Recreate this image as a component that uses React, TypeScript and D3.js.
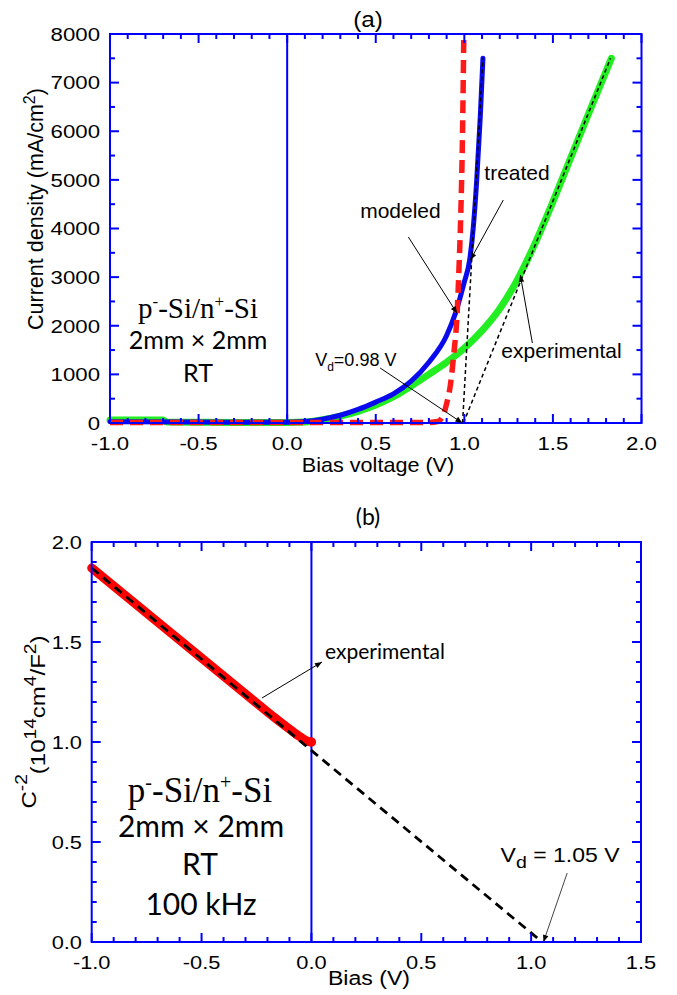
import React from 'react';
import * as d3 from 'd3';

// ---- panel (a): J-V curves ----
const greenIV = [
  [-1.0, 60], [-0.7, 60], [-0.68, 20], [-0.3, 12], [0.0, 10], [0.1, 20], [0.2, 70], [0.3, 140],
  [0.4, 240], [0.5, 370], [0.6, 540], [0.7, 760], [0.8, 1000], [0.9, 1250], [1.0, 1540],
  [1.1, 1900], [1.2, 2350], [1.3, 2950], [1.4, 3700], [1.5, 4550], [1.6, 5450], [1.7, 6350], [1.83, 7500],
];
const blueIV = [
  [-1.0, 25], [-0.5, 20], [0.0, 15], [0.1, 30], [0.2, 80], [0.3, 160], [0.4, 280], [0.5, 430],
  [0.6, 600], [0.7, 860], [0.8, 1250], [0.9, 1800], [0.95, 2260], [1.0, 2900], [1.03, 3350],
  [1.05, 4000], [1.07, 5000], [1.09, 6300], [1.105, 7500],
];
const redModel = [
  [-1.0, 10], [0.8, 10], [0.85, 30], [0.88, 150], [0.9, 400], [0.92, 750], [0.94, 1400],
  [0.96, 2300], [0.97, 3200], [0.98, 4300], [0.99, 6000], [0.997, 8000],
];
const treatedFit = [[0.99, 0], [1.105, 7500]];
const expFit = [[0.995, 0], [1.825, 7500]];

const xTicksA = [-1.0, -0.5, 0.0, 0.5, 1.0, 1.5, 2.0];
const xLabelsA = ['-1.0', '-0.5', '0.0', '0.5', '1.0', '1.5', '2.0'];
const yTicksA = [0, 1000, 2000, 3000, 4000, 5000, 6000, 7000, 8000];
const yLabelsA = ['0', '1000', '2000', '3000', '4000', '5000', '6000', '7000', '8000'];

// ---- panel (b): C^-2 - V ----
const redCV = [
  [-1.0, 1.87], [-0.9, 1.78], [-0.8, 1.69], [-0.7, 1.6], [-0.6, 1.51], [-0.5, 1.42], [-0.4, 1.33],
  [-0.3, 1.24], [-0.2, 1.15], [-0.1, 1.065], [-0.05, 1.025], [-0.02, 1.005], [0.0, 1.0],
];
const cvFit = [[-1.0, 1.87], [1.05, 0]];

const xTicksB = [-1.0, -0.5, 0.0, 0.5, 1.0, 1.5];
const xLabelsB = ['-1.0', '-0.5', '0.0', '0.5', '1.0', '1.5'];
const yTicksB = [0, 0.5, 1.0, 1.5, 2.0];
const yLabelsB = ['0.0', '0.5', '1.0', '1.5', '2.0'];

const ARIAL = "'Liberation Sans', Arial, sans-serif";
const TIMES = "'Liberation Serif', 'Times New Roman', serif";
const CALIBRI = "Lato, 'Open Sans', sans-serif";
const AXIS = '#0000ff';

const xA = d3.scaleLinear().domain([-1, 2]).range([110, 641.5]);
const yA = d3.scaleLinear().domain([0, 8000]).range([423, 34]);
const xB = d3.scaleLinear().domain([-1, 1.5]).range([91.7, 641]);
const yB = d3.scaleLinear().domain([0, 2]).range([942, 542]);

function Txt({ x, y, size, family = ARIAL, anchor = 'start', sx = 1, rot = 0, children }: any) {
  return (
    <text
      transform={`translate(${x},${y})${rot ? ` rotate(${rot})` : ''} scale(${sx},1)`}
      fontSize={size}
      fontFamily={family}
      textAnchor={anchor}
      fill="#000"
    >
      {children}
    </text>
  );
}

function Frame({ xs, ys, xStep, yStep, xMajor, yMajor }: any) {
  const [x0, x1] = xs.range();
  const [yb, yt] = ys.range();
  const [dx0, dx1] = xs.domain();
  const [dy0, dy1] = ys.domain();
  const nx = Math.round((dx1 - dx0) / xStep);
  const ny = Math.round((dy1 - dy0) / yStep);
  const xv = d3.range(nx + 1).map((i) => dx0 + i * xStep);
  const yv = d3.range(ny + 1).map((i) => dy0 + i * yStep);
  const isMaj = (v: number, m: number) => Math.abs(v / m - Math.round(v / m)) < 1e-6;
  return (
    <g stroke={AXIS} strokeWidth={2} fill="none">
      <rect x={x0} y={yt} width={x1 - x0} height={yb - yt} />
      {xv.map((v, i) => {
        const L = isMaj(v, xMajor) ? 9 : 5;
        const px = xs(v);
        return (
          <g key={'x' + i}>
            <line x1={px} x2={px} y1={yb} y2={yb - L} />
            <line x1={px} x2={px} y1={yt} y2={yt + L} />
          </g>
        );
      })}
      {yv.map((v, i) => {
        const L = isMaj(v, yMajor) ? 9 : 5;
        const py = ys(v);
        return (
          <g key={'y' + i}>
            <line x1={x0} x2={x0 + L} y1={py} y2={py} />
            <line x1={x1} x2={x1 - L} y1={py} y2={py} />
          </g>
        );
      })}
    </g>
  );
}

export default function App() {
  const lineA = d3.line<number[]>().x((d) => xA(d[0])).y((d) => yA(d[1])).curve(d3.curveMonotoneX);
  const straightA = d3.line<number[]>().x((d) => xA(d[0])).y((d) => yA(d[1]));
  const lineB = d3.line<number[]>().x((d) => xB(d[0])).y((d) => yB(d[1])).curve(d3.curveMonotoneX);
  const straightB = d3.line<number[]>().x((d) => xB(d[0])).y((d) => yB(d[1]));

  const arrow = (xs: any, ys: any, a: number[], b: number[], color = '#000', w = 1) => (
    <line
      x1={xs(a[0])} y1={ys(a[1])} x2={xs(b[0])} y2={ys(b[1])}
      stroke={color} strokeWidth={w} markerEnd="url(#ah)"
    />
  );

  return (
    <svg width={677} height={995} style={{ position: 'absolute', left: 0, top: 0, background: '#fff' }}>
      <defs>
        <marker id="ah" viewBox="0 0 10 10" refX={10} refY={5} markerWidth={9} markerHeight={7}
          markerUnits="userSpaceOnUse" orient="auto">
          <path d="M0,1 L10,5 L0,9 Z" fill="#000" />
        </marker>
      </defs>

      {/* ================= (a) ================= */}
      <Txt x={368} y={27} size={22} anchor="middle" sx={1.1}>(a)</Txt>
      <line x1={xA(0)} x2={xA(0)} y1={yA(0)} y2={yA(8000)} stroke={AXIS} strokeWidth={2} />
      <path d={lineA(greenIV) || ''} fill="none" stroke="#22ee22" strokeWidth={7} strokeLinecap="round" />
      <path d={lineA(blueIV) || ''} fill="none" stroke="#0a0aee" strokeWidth={5} strokeLinecap="round" />
      <path d={lineA(redModel) || ''} fill="none" stroke="#ff1a1a" strokeWidth={5.5} strokeDasharray="13,7" />
      <path d={straightA(treatedFit) || ''} fill="none" stroke="#000" strokeWidth={1.5} strokeDasharray="4,3" />
      <path d={straightA(expFit) || ''} fill="none" stroke="#000" strokeWidth={1.5} strokeDasharray="4,3" />
      <Frame xs={xA} ys={yA} xStep={0.1} yStep={500} xMajor={0.5} yMajor={1000} />

      {xTicksA.map((v, i) => (
        <Txt key={'xa' + i} x={xA(v)} y={450} size={19} anchor="middle" sx={1.17}>{xLabelsA[i]}</Txt>
      ))}
      {yTicksA.map((v, i) => (
        <Txt key={'ya' + i} x={100} y={yA(v) + 6.8} size={19} anchor="end" sx={1.17}>{yLabelsA[i]}</Txt>
      ))}
      <Txt x={378} y={472} size={20} anchor="middle" sx={1.08}>Bias voltage (V)</Txt>
      <Txt x={43} y={209} size={21.5} anchor="middle" rot={-90}>
        Current density (mA/cm<tspan dy={-8} fontSize={16}>2</tspan><tspan dy={8}>)</tspan>
      </Txt>

      <Txt x={198} y={318} size={29} anchor="middle" family={TIMES}>
        p<tspan dy={-11} fontSize={17}>-</tspan><tspan dy={11}>-Si/n</tspan>
        <tspan dy={-11} fontSize={17}>+</tspan><tspan dy={11}>-Si</tspan>
      </Txt>
      <Txt x={198} y={349} size={25} anchor="middle" family={CALIBRI}>2mm × 2mm</Txt>
      <Txt x={198} y={382} size={25} anchor="middle" family={CALIBRI}>RT</Txt>

      <Txt x={xA(0.412)} y={yA(4216)} size={20} sx={1.05}>modeled</Txt>
      <Txt x={xA(1.113)} y={yA(4997)} size={20} sx={1.05}>treated</Txt>
      <Txt x={xA(1.209)} y={yA(1337)} size={20} sx={1.05}>experimental</Txt>
      <Txt x={xA(0.158)} y={yA(1172)} size={18}>
        V<tspan dy={5} fontSize={12}>d</tspan><tspan dy={-5}>=0.98 V</tspan>
      </Txt>
      {arrow(xA, yA, [0.684, 3825], [0.959, 2256])}
      {arrow(xA, yA, [1.22, 4586], [1.034, 3352])}
      {arrow(xA, yA, [1.384, 1645], [1.316, 3044])}
      {arrow(xA, yA, [0.525, 1131], [0.989, 0])}

      {/* ================= (b) ================= */}
      <Txt x={368} y={525} size={23} anchor="middle" family={CALIBRI}>(b)</Txt>
      <line x1={xB(0)} x2={xB(0)} y1={yB(0)} y2={yB(2)} stroke={AXIS} strokeWidth={2} />
      <path d={lineB(redCV) || ''} fill="none" stroke="#ff0000" strokeWidth={9} strokeLinecap="round" />
      <circle cx={xB(0)} cy={yB(1.0)} r={4.5} fill="#ff0000" />
      <path d={straightB(cvFit) || ''} fill="none" stroke="#000" strokeWidth={2.8} strokeDasharray="9,6" />
      <Frame xs={xB} ys={yB} xStep={0.1} yStep={0.1} xMajor={0.5} yMajor={0.5} />

      {xTicksB.map((v, i) => (
        <Txt key={'xb' + i} x={xB(v)} y={969} size={18.5} anchor="middle" sx={1.18}>{xLabelsB[i]}</Txt>
      ))}
      {yTicksB.map((v, i) => (
        <Txt key={'yb' + i} x={82} y={yB(v) + 6.6} size={18.5} anchor="end" sx={1.18}>{yLabelsB[i]}</Txt>
      ))}
      <Txt x={369} y={985} size={21} anchor="middle" sx={1.1}>Bias (V)</Txt>
      <Txt x={36} y={722} size={20} anchor="middle" rot={-90} sx={1.2}>
        C<tspan dy={-9} fontSize={16}>-2</tspan><tspan dy={18}>(10</tspan>
        <tspan dy={-9} fontSize={16}>14</tspan><tspan dy={9}>cm</tspan>
        <tspan dy={-9} fontSize={16}>4</tspan><tspan dy={9}>/F</tspan>
        <tspan dy={-9} fontSize={16}>2</tspan><tspan dy={9}>)</tspan>
      </Txt>

      <Txt x={200} y={802} size={35} anchor="middle" family={TIMES}>
        p<tspan dy={-13} fontSize={20}>-</tspan><tspan dy={13}>-Si/n</tspan>
        <tspan dy={-13} fontSize={20}>+</tspan><tspan dy={13}>-Si</tspan>
      </Txt>
      <Txt x={201} y={837} size={30} anchor="middle" family={CALIBRI}>2mm × 2mm</Txt>
      <Txt x={200} y={875} size={30} anchor="middle" family={CALIBRI}>RT</Txt>
      <Txt x={201} y={915} size={30} anchor="middle" family={CALIBRI}>100 kHz</Txt>

      <Txt x={xB(0.062)} y={yB(1.415)} size={21} family={CALIBRI}>experimental</Txt>
      {arrow(xB, yB, [-0.225, 1.22], [0.048, 1.4])}
      <Txt x={xB(0.861)} y={yB(0.4)} size={20} sx={1.15}>
        V<tspan dy={6} fontSize={17}>d</tspan><tspan dy={-6}> = 1.05 V</tspan>
      </Txt>
      {arrow(xB, yB, [1.164, 0.345], [1.056, 0.0], '#444', 1)}
    </svg>
  );
}
